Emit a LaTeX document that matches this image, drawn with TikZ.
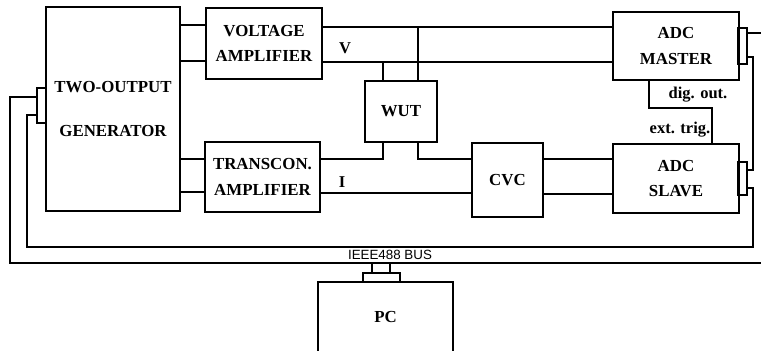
\documentclass[tikz,border=0pt]{standalone}
\usepackage{fontspec}
\setmainfont{Liberation Serif}
\setsansfont{Liberation Sans}
\usetikzlibrary{positioning, calc}
\tikzset{
  blk/.style   ={draw, line width=0.8pt, align=center, inner sep=2pt,
                 font=\fontsize{9.6}{14.5}\selectfont\bfseries},
  conn/.style  ={draw, line width=0.8pt, inner sep=0pt},
  wire/.style  ={line width=0.8pt},
  lbl/.style   ={font=\fontsize{9.4}{10}\selectfont\bfseries, inner sep=0pt},
  buslbl/.style={font=\sffamily\fontsize{7.6}{8}\selectfont, inner sep=0pt},
}

\begin{document}
\begin{tikzpicture}[x=0.02cm, y=-0.02cm]
  \useasboundingbox (0,0) rectangle (761,351);
  \node[blk, minimum width=2.68cm, minimum height=4.08cm] (gen) at (113,109) {TWO-OUTPUT\\[11pt]GENERATOR};
  \node[blk, minimum width=2.32cm, minimum height=1.42cm] (volt) at (264,43.5) {VOLTAGE\\AMPLIFIER};
  \node[blk, minimum width=2.30cm, minimum height=1.40cm] (ta) at (262.5,177) {TRANSCON.\\AMPLIFIER};
  \node[blk, minimum width=1.44cm, minimum height=1.22cm] (wut) at (401,111.5) {WUT};
  \node[blk, minimum width=1.42cm, minimum height=1.48cm] (cvc) at (507.5,180) {CVC};
  \node[blk, minimum width=2.52cm, minimum height=1.36cm] (master) at (676,46) {ADC\\MASTER};
  \node[blk, minimum width=2.52cm, minimum height=1.38cm] (slave) at (676,178.5) {ADC\\SLAVE};
  \node[blk, minimum width=2.70cm, minimum height=1.40cm] (pc) at (385.5,317) {PC};
  \node[conn, minimum width=0.18cm, minimum height=0.70cm] (gconn) at (41.5,105.5) {};
  \node[conn, minimum width=0.18cm, minimum height=0.72cm] (mconn) at (742.5,46) {};
  \node[conn, minimum width=0.18cm, minimum height=0.66cm] (sconn) at (742.5,178.5) {};
  \node[conn, minimum width=0.74cm, minimum height=0.18cm] (pcconn) at (381.5,277.5) {};
  \coordinate (busR) at (766,263);
  \node[lbl] (vlab) at (345,48) {V};
  \node[lbl] (ilab) at (342,182) {I};
  \node[lbl] (dig) at (698,95) {dig. out.};
  \node[lbl] (ext) at (680,130) {ext. trig.};
  \node[buslbl] (bus) at (390,255) {IEEE488 BUS};
  \draw[wire] (gen.east |- 0,25) -- (volt.west |- 0,25);
  \draw[wire] (gen.east |- 0,61) -- (volt.west |- 0,61);
  \draw[wire] (gen.east |- 0,159) -- (ta.west |- 0,159);
  \draw[wire] (gen.east |- 0,192) -- (ta.west |- 0,192);
  \draw[wire] (volt.east |- 0,27) -- (master.west |- 0,27);
  \draw[wire] (volt.east |- 0,62) -- (master.west |- 0,62);
  \draw[wire] (383,0 |- wut.north) -- (383,62);
  \draw[wire] (418,0 |- wut.north) -- (418,27);
  \draw[wire] (ta.east |- 0,159) -| (383,0 |- wut.south);
  \draw[wire] (cvc.west |- 0,159) -| (418,0 |- wut.south);
  \draw[wire] (ta.east |- 0,193) -- (cvc.west |- 0,193);
  \draw[wire] (cvc.east |- 0,159) -- (slave.west |- 0,159);
  \draw[wire] (cvc.east |- 0,194) -- (slave.west |- 0,194);
  \draw[wire] (649,0 |- master.south) |- (712,108) -- (712,0 |- slave.north);
  \draw[wire] (gconn.west |- 0,97) -| (10,263) -- (busR) |- (mconn.east |- 0,33);
  \draw[wire] (mconn.east |- 0,57) -| (753,170) -- (sconn.east |- 0,170);
  \draw[wire] (sconn.east |- 0,188) -| (753,247) -| (27,115) -- (gconn.west |- 0,115);
  \draw[wire] (372,0 |- pcconn.north) -- (372,263);
  \draw[wire] (390,0 |- pcconn.north) -- (390,263);
\end{tikzpicture}
\end{document}
